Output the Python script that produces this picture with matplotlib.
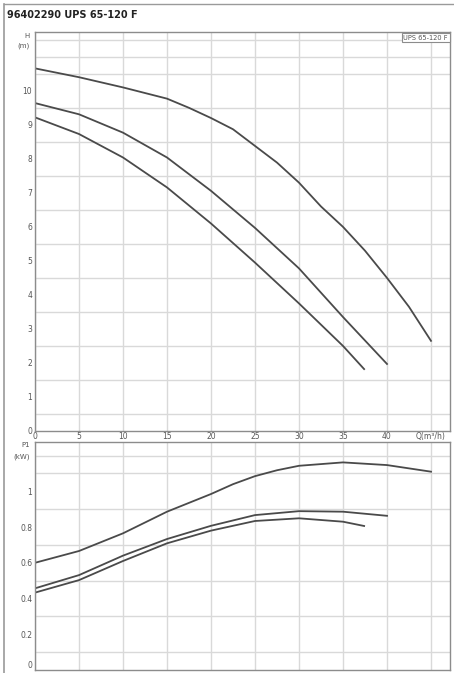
import matplotlib.pyplot as plt
from matplotlib.lines import Line2D

# Pump curves (flow Q in m3/h, head H in m)
q_high = [0, 5, 10, 15, 17.5, 20, 22.5, 25, 27.5, 30, 32.5, 35, 37.5, 40, 42.5, 45]
h_high = [10.66, 10.4, 10.1, 9.77, 9.5, 9.2, 8.87, 8.38, 7.89, 7.3, 6.6, 6.0, 5.3,
          4.5, 3.65, 2.65]

q_mid = [0, 5, 10, 15, 20, 25, 30, 35, 40]
h_mid = [9.64, 9.31, 8.77, 8.04, 7.06, 5.97, 4.78, 3.35, 1.97]

q_low = [0, 5, 10, 15, 20, 25, 30, 35, 37.4]
h_low = [9.22, 8.73, 8.04, 7.16, 6.1, 4.95, 3.75, 2.5, 1.82]

# Power input P1 in kW
qp_high = [0, 5, 10, 15, 20, 22.5, 25, 27.5, 30, 35, 40, 45]
p_high = [0.60, 0.666, 0.765, 0.886, 0.985, 1.04, 1.085, 1.118, 1.143, 1.162, 1.147, 1.11]
qp_mid = [0, 5, 10, 15, 20, 25, 30, 35, 40]
p_mid = [0.457, 0.531, 0.64, 0.733, 0.807, 0.867, 0.889, 0.886, 0.863]
qp_low = [0, 5, 10, 15, 20, 25, 30, 35, 37.4]
p_low = [0.433, 0.503, 0.61, 0.709, 0.78, 0.834, 0.849, 0.83, 0.806]

x_ticks = [0, 5, 10, 15, 20, 25, 30, 35, 40, 45]
x_labels = ["0", "5", "10", "15", "20", "25", "30", "35", "40", "Q(m³/h)"]
h_ticks = [0, 1, 2, 3, 4, 5, 6, 7, 8, 9, 10]
p_ticks = [0, 0.2, 0.4, 0.6, 0.8, 1.0]
p_labels = ["0", "0.2", "0.4", "0.6", "0.8", "1"]

title = "96402290 UPS 65-120 F"
legend_text = "UPS 65-120 F"

curve_color = "#4a4a4a"
grid_color = "#d9d9d9"
spine_color = "#8c8c8c"
text_color = "#555555"

fig = plt.figure(figsize=(4.54, 6.73), dpi=100)
fig.patch.set_facecolor("white")

ax_h = fig.add_axes([0.0771, 0.3596, 0.9141, 0.5929])
ax_p = fig.add_axes([0.0771, 0.0045, 0.9141, 0.3387])


def style_axes(ax, ymax, ystep):
    ax.set_xlim(0, 47.16)
    ax.set_ylim(0, ymax)
    ax.set_xticks([5 * i for i in range(10)])
    ax.set_yticks([ystep * i for i in range(int(ymax / ystep) + 1)], minor=True)
    ax.grid(True, which="major", axis="x", color=grid_color, lw=1)
    ax.grid(True, which="minor", axis="y", color=grid_color, lw=1)
    ax.set_axisbelow(True)
    for s in ax.spines.values():
        s.set_color(spine_color)
        s.set_linewidth(1)
    ax.tick_params(which="both", length=0, labelsize=5.5, colors=text_color, pad=2)


# Head curves
style_axes(ax_h, 11.73, 0.5)
for q, h in [(q_high, h_high), (q_mid, h_mid), (q_low, h_low)]:
    ax_h.plot(q, h, color=curve_color, lw=1.3)
ax_h.set_yticks(h_ticks)
ax_h.set_yticklabels([str(t) for t in h_ticks])
ax_h.set_xticks(x_ticks)
ax_h.set_xticklabels(x_labels)
ax_h.tick_params(axis="x", pad=1)
ax_h.text(-0.012, 0.99, "H", transform=ax_h.transAxes, ha="right", va="center",
          fontsize=5, color=text_color)
ax_h.text(-0.012, 0.965, "(m)", transform=ax_h.transAxes, ha="right", va="center",
          fontsize=5, color=text_color)
ax_h.text(0.995, 0.993, legend_text, transform=ax_h.transAxes, ha="right", va="top",
          fontsize=4.8, color=text_color,
          bbox=dict(boxstyle="square,pad=0.25", fc="white", ec=spine_color, lw=0.8))

# Power curves
style_axes(ax_p, 1.276, 0.1)
for q, p in [(qp_high, p_high), (qp_mid, p_mid), (qp_low, p_low)]:
    ax_p.plot(q, p, color=curve_color, lw=1.3)
ax_p.set_yticks(p_ticks)
ax_p.set_yticklabels(p_labels)
ax_p.get_yticklabels()[0].set_va("bottom")
ax_p.set_xticklabels([])
ax_p.text(-0.012, 0.985, "P1", transform=ax_p.transAxes, ha="right", va="center",
          fontsize=5, color=text_color)
ax_p.text(-0.012, 0.935, "(kW)", transform=ax_p.transAxes, ha="right", va="center",
          fontsize=5, color=text_color)

# Title and outer frame lines
fig.text(0.015, 0.978, title, ha="left", va="center", fontsize=7, fontweight="bold",
         color="#222222")
fig.add_artist(Line2D([0.009, 1.0], [0.994, 0.994], transform=fig.transFigure,
                      color="#9a9a9a", lw=1))
fig.add_artist(Line2D([0.009, 0.009], [0.0, 0.994], transform=fig.transFigure,
                      color="#9a9a9a", lw=1.2))

fig.savefig("out.png", dpi=100)
